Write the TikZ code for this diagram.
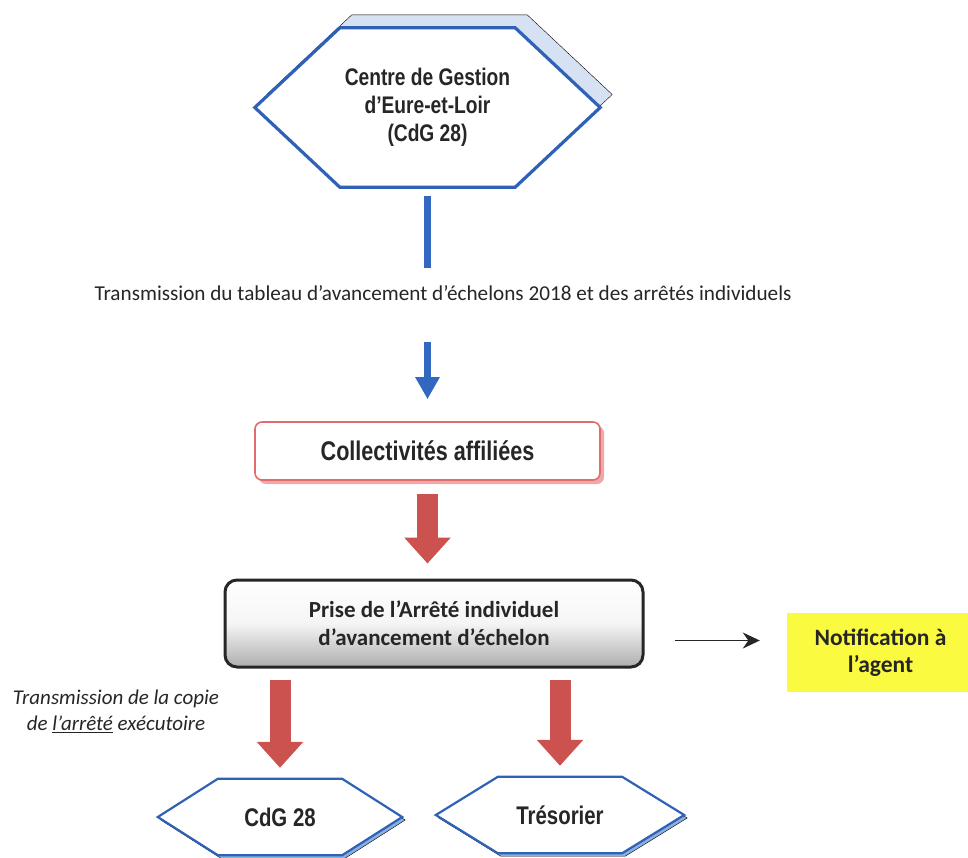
\documentclass[tikz,border=0pt]{standalone}
\usepackage{fontspec}
\setmainfont{Carlito}
\newfontfamily\narrowfont[FakeStretch=0.8]{Liberation Sans}
\usepackage{tikz}
\usetikzlibrary{arrows.meta, positioning, shadows, backgrounds}
\definecolor{HexBlue}{RGB}{47,98,182}
\definecolor{HexShade}{RGB}{214,225,243}
\definecolor{HexShadeB}{RGB}{140,175,225}
\definecolor{ArrowBlue}{RGB}{50,104,192}
\definecolor{ArrowRed}{RGB}{204,82,80}
\definecolor{BoxRed}{RGB}{226,108,108}
\definecolor{BoxShade}{RGB}{238,170,170}
\definecolor{NoteYellow}{RGB}{250,250,64}
\definecolor{TextGray}{RGB}{38,38,38}

% hexagon drawn round a named node: node, point depth, options
\newcommand{\hexframe}[3]{\draw[#3] ([xshift=-#2]#1.west) -- (#1.north west) -- (#1.north east) -- ([xshift=#2]#1.east) -- (#1.south east) -- (#1.south west) -- cycle;}

\begin{document}
\begin{tikzpicture}[x=1pt, y=-1pt, every node/.style={text=TextGray, inner sep=0pt, align=center},
  hexnode/.style={font=\narrowfont\bfseries\fontsize{#1}{28}\selectfont},
  hexline/.style={draw=HexBlue, line width=3.2pt, line join=miter, fill=white},
  blueline/.style={draw=ArrowBlue, line width=7pt},
  bluearrow/.style={blueline, -{Triangle[width=23pt, length=22pt]}},
  redarrow/.style={draw=ArrowRed, line width=21pt, -{Triangle[width=45pt, length=26pt]}},
  thinarrow/.style={draw=black!85, line width=1.8pt, -{Stealth[width=16pt, length=17pt]}}]
\useasboundingbox (0,0) rectangle (968,857);

\node[hexnode=24, minimum width=175pt, minimum height=159pt] (cdg) at (427.5,107.5) {Centre de Gestion\\d’Eure-et-Loir\\(CdG 28)};
\node[font=\fontsize{21.2}{25}\selectfont, text height=16pt, text depth=5pt, anchor=base] (trans) at (443,300) {Transmission du tableau d’avancement d’échelons 2018 et des arrêtés individuels};
\node[font=\narrowfont\bfseries\fontsize{27}{30}\selectfont, minimum width=345pt, minimum height=58pt, rounded corners=7pt, draw=BoxRed, line width=1.6pt, fill=white,
  drop shadow={shadow xshift=4pt, shadow yshift=-4pt, fill=BoxShade, opacity=1}] (coll) at (427.5,451) {Collectivités affiliées};
\node[font=\bfseries\fontsize{23}{28}\selectfont, minimum width=418pt, minimum height=87pt, rounded corners=12pt, draw=black!85, line width=3pt,
  top color=white, bottom color=black!32, middle color=black!4] (prise) at (434,623.5) {Prise de l’Arrêté individuel\\d’avancement d’échelon};
\node[font=\bfseries\fontsize{23.5}{27}\selectfont, minimum width=181pt, minimum height=79pt, fill=NoteYellow] (note) at (877.5,652.5) {\hspace*{6pt}Notification à\\\hspace*{6pt}l’agent};
\node[font=\itshape\fontsize{21}{26}\selectfont] (copie) at (116,711) {Transmission de la copie\\de \underline{l’arrêté} exécutoire};
\node[hexnode=25.5, minimum width=124pt, minimum height=76pt] (cdgb) at (280,817) {CdG 28};
\node[hexnode=25.5, minimum width=124pt, minimum height=76pt] (tres) at (560,815) {Trésorier};

\begin{scope}[on background layer]
\hexframe{cdg}{85pt}{fill=HexShade, transform canvas={shift={(12pt,13pt)}}}
\hexframe{cdg}{85pt}{hexline}
\hexframe{cdgb}{60pt}{fill=HexShadeB, transform canvas={shift={(3pt,-3pt)}}}
\hexframe{cdgb}{60pt}{hexline, line width=2.2pt}
\hexframe{tres}{62pt}{fill=HexShadeB, transform canvas={shift={(3pt,-3pt)}}}
\hexframe{tres}{62pt}{hexline, line width=2.2pt}
\end{scope}

\draw[blueline, shorten <=9pt, shorten >=16pt] (cdg.south) -- (cdg.south |- trans.north);
\draw[bluearrow, shorten <=37pt, shorten >=22pt] (trans.south -| coll.north) -- (coll.north);
\draw[redarrow, shorten <=13pt, shorten >=15pt] (coll.south) -- (coll.south |- prise.north);
\draw[redarrow, shorten <=11pt, shorten >=11pt] (prise.south -| cdgb.north) -- (cdgb.north);
\draw[redarrow, shorten <=11pt, shorten >=11pt] (prise.south -| tres.north) -- (tres.north);
\draw[thinarrow, shorten <=30pt, shorten >=27pt] ([yshift=-17pt]prise.east) -- ([yshift=12pt]note.west);
\end{tikzpicture}
\end{document}
